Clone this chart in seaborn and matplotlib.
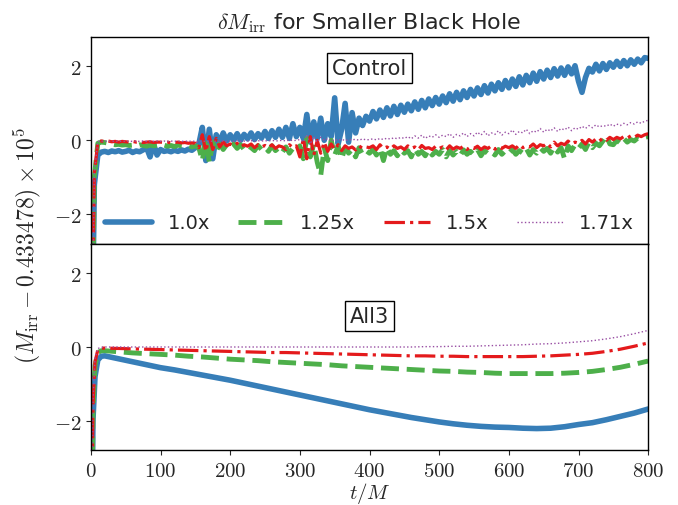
import numpy as np
import pandas as pd
import matplotlib
matplotlib.use('Agg')
import matplotlib.pyplot as plt
from matplotlib.ticker import FuncFormatter
import seaborn as sns

# time grids
t_control = np.arange(0, 805, 5)
t_all3 = [0, 3, 6, 10, 15] + list(range(20, 801, 20))

labels = ['1.0x', '1.25x', '1.5x', '1.71x']
colors = ['#377eb8', '#4daf4a', '#e41a1c', '#984ea3']

# Control run (values read every 5 M)
control_10 = [
    -8.0, -1.2, -0.40, -0.32, -0.30, -0.33, -0.29, -0.31, -0.28, -0.32,
    -0.30, -0.27, -0.33, -0.29, -0.31, -0.26, -0.20, -0.45, -0.10, -0.40,
    -0.25, -0.30, -0.28, -0.31, -0.27, -0.30, -0.26, -0.29, -0.24, -0.27,
    -0.20, -0.10, 0.35, -0.55, 0.30, -0.50, 0.15, -0.05, 0.20, -0.02,
    0.15, 0.00, 0.18, 0.00, 0.16, 0.04, 0.20, 0.02, 0.18, 0.06,
    0.24, 0.05, 0.26, 0.08, 0.30, 0.08, 0.35, 0.05, 0.45, 0.10,
    0.35, 0.05, 0.70, -0.05, 0.50, 0.05, 0.60, 0.00, 0.45, 0.10,
    1.15, -0.10, 0.30, 1.00, -0.05, 0.75, 0.20, 0.60, 0.40, 0.65,
    0.52, 0.78, 0.58, 0.82, 0.62, 0.88, 0.66, 0.92, 0.70, 0.95,
    0.76, 0.98, 0.80, 1.04, 0.84, 1.08, 0.88, 1.12, 0.94, 1.16,
    0.98, 1.20, 1.02, 1.26, 1.06, 1.30, 1.10, 1.34, 1.16, 1.38,
    1.20, 1.42, 1.24, 1.48, 1.28, 1.52, 1.34, 1.56, 1.38, 1.62,
    1.42, 1.66, 1.46, 1.72, 1.50, 1.76, 1.56, 1.82, 1.60, 1.86,
    1.66, 1.90, 1.70, 1.94, 1.74, 1.96, 1.76, 1.99, 1.80, 2.02,
    1.60, 1.30, 1.70, 1.95, 1.85, 2.06, 1.88, 2.08, 1.92, 2.10,
    1.98, 2.14, 2.00, 2.16, 2.02, 2.18, 2.06, 2.20, 2.10, 2.24,
    2.22]
control_125 = [
    -8.0, -1.0, -0.08, -0.05, -0.06, -0.08, -0.10, -0.12, -0.11, -0.13,
    -0.12, -0.14, -0.13, -0.15, -0.12, -0.14, -0.16, -0.13, -0.15, -0.14,
    -0.15, -0.13, -0.16, -0.14, -0.17, -0.13, -0.15, -0.16, -0.14, -0.18,
    -0.15, -0.20, -0.55, 0.05, -0.60, -0.05, -0.30, -0.10, -0.25, -0.12,
    -0.20, -0.10, -0.22, -0.12, -0.25, -0.15, -0.20, -0.28, -0.14, -0.25,
    -0.18, -0.30, -0.15, -0.28, -0.20, -0.32, -0.18, -0.35, -0.22, -0.30,
    -0.15, -0.50, 0.05, -0.45, -0.10, -0.60, -0.95, -0.20, -0.55, 0.00,
    -0.40, -0.15, -0.50, -0.20, -0.35, -0.25, -0.45, -0.20, -0.38, -0.28,
    -0.35, -0.25, -0.40, -0.22, -0.55, -0.20, -0.38, -0.28, -0.42, -0.25,
    -0.35, -0.28, -0.45, -0.22, -0.38, -0.30, -0.42, -0.25, -0.40, -0.30,
    -0.38, -0.25, -0.45, -0.28, -0.40, -0.30, -0.42, -0.26, -0.38, -0.30,
    -0.40, -0.25, -0.42, -0.28, -0.36, -0.30, -0.40, -0.25, -0.38, -0.28,
    -0.35, -0.25, -0.38, -0.28, -0.35, -0.22, -0.40, -0.25, -0.35, -0.20,
    -0.30, -0.22, -0.35, -0.18, -0.32, -0.20, -0.50, -0.15, -0.28, -0.12,
    -0.22, -0.10, -0.25, -0.05, -0.20, -0.08, -0.15, -0.02, 0.12, -0.10,
    -0.12, 0.00, -0.08, 0.05, -0.05, 0.02, -0.02, 0.06, 0.03, 0.08,
    0.10]
control_15 = [
    -8.0, -0.9, -0.04, -0.02, -0.03, -0.02, -0.04, -0.03, -0.05, -0.03,
    -0.04, -0.05, -0.03, -0.05, -0.04, -0.06, -0.05, -0.04, -0.06, -0.05,
    -0.05, -0.06, -0.05, -0.07, -0.06, -0.05, -0.07, -0.06, -0.08, -0.07,
    -0.08, -0.20, 0.15, -0.30, 0.10, -0.25, 0.05, -0.18, -0.05, -0.15,
    -0.10, -0.15, -0.08, -0.18, -0.12, -0.16, -0.10, -0.20, -0.12, -0.18,
    -0.14, -0.20, -0.12, -0.22, -0.15, -0.18, -0.25, -0.12, -0.20, -0.15,
    -0.45, 0.05, -0.50, 0.10, -0.40, 0.00, -0.35, -0.05, -0.30, -0.10,
    -0.25, -0.12, -0.28, -0.15, -0.22, -0.18, -0.26, -0.15, -0.22, -0.18,
    -0.20, -0.15, -0.25, -0.12, -0.22, -0.18, -0.24, -0.15, -0.22, -0.18,
    -0.25, -0.15, -0.22, -0.18, -0.26, -0.14, -0.22, -0.20, -0.25, -0.16,
    -0.22, -0.18, -0.26, -0.15, -0.24, -0.18, -0.22, -0.16, -0.25, -0.18,
    -0.22, -0.16, -0.25, -0.18, -0.22, -0.15, -0.24, -0.17, -0.22, -0.16,
    -0.20, -0.15, -0.22, -0.12, -0.20, -0.15, -0.18, -0.10, -0.20, -0.12,
    -0.15, -0.08, -0.18, -0.05, -0.15, -0.08, -0.12, -0.02, -0.10, -0.05,
    -0.08, 0.00, -0.10, 0.02, -0.05, 0.04, -0.02, 0.06, 0.00, 0.08,
    0.02, 0.08, 0.04, 0.10, 0.06, 0.12, 0.08, 0.14, 0.10, 0.15,
    0.18]
control_171 = [
    -8.0, -0.9, -0.03, -0.02, -0.03, -0.02, -0.03, -0.02, -0.03, -0.02,
    -0.03, -0.02, -0.03, -0.02, -0.03, -0.02, -0.03, -0.02, -0.03, -0.02,
    -0.03, -0.02, -0.03, -0.02, -0.03, -0.02, -0.03, -0.02, -0.03, -0.02,
    -0.03, -0.05, -0.01, -0.04, -0.02, -0.03, -0.02, -0.03, -0.02, -0.03,
    -0.02, -0.03, -0.01, -0.03, -0.02, -0.02, -0.01, -0.03, -0.01, -0.02,
    -0.01, -0.02, 0.00, -0.02, -0.01, 0.00, -0.02, 0.01, -0.01, 0.00,
    0.02, -0.05, 0.15, -0.10, 0.10, -0.05, 0.08, 0.00, 0.05, -0.02,
    0.02, 0.00, 0.03, -0.01, 0.02, 0.01, 0.03, 0.00, 0.04, 0.01,
    0.02, 0.04, 0.01, 0.05, 0.02, 0.06, 0.03, 0.07, 0.04, 0.08,
    0.05, 0.10, 0.04, 0.12, 0.06, 0.14, 0.05, 0.12, 0.08, 0.15,
    0.08, 0.14, 0.10, 0.18, 0.08, 0.16, 0.12, 0.20, 0.10, 0.18,
    0.12, 0.22, 0.14, 0.24, 0.12, 0.20, 0.16, 0.26, 0.14, 0.22,
    0.18, 0.28, 0.16, 0.24, 0.20, 0.30, 0.18, 0.26, 0.22, 0.32,
    0.22, 0.30, 0.25, 0.34, 0.24, 0.32, 0.28, 0.36, 0.26, 0.34,
    0.30, 0.38, 0.32, 0.40, 0.34, 0.42, 0.36, 0.40, 0.38, 0.44,
    0.38, 0.44, 0.40, 0.46, 0.42, 0.48, 0.44, 0.50, 0.46, 0.52,
    0.54]

# All3 run
all3_10 = [-8.0, -2.0, -0.8, -0.35, -0.25,
           -0.24, -0.32, -0.40, -0.48, -0.56, -0.62, -0.69, -0.76, -0.83, -0.90,
           -0.98, -1.06, -1.14, -1.22, -1.30, -1.38, -1.46, -1.54, -1.62, -1.70,
           -1.77, -1.84, -1.91, -1.97, -2.03, -2.08, -2.12, -2.15, -2.17, -2.18,
           -2.20, -2.21, -2.20, -2.16, -2.10, -2.05, -1.97, -1.88, -1.79, -1.68]
all3_125 = [-8.0, -1.8, -0.5, -0.15, -0.10,
            -0.10, -0.13, -0.16, -0.18, -0.20, -0.22, -0.25, -0.27, -0.30, -0.33,
            -0.35, -0.37, -0.40, -0.42, -0.44, -0.46, -0.48, -0.51, -0.53, -0.55,
            -0.57, -0.59, -0.61, -0.63, -0.65, -0.66, -0.68, -0.69, -0.71, -0.72,
            -0.72, -0.72, -0.72, -0.71, -0.69, -0.66, -0.61, -0.55, -0.47, -0.38]
all3_15 = [-8.0, -1.6, -0.4, -0.08, -0.03,
           -0.03, -0.04, -0.05, -0.06, -0.07, -0.08, -0.09, -0.10, -0.11, -0.12,
           -0.13, -0.14, -0.15, -0.15, -0.16, -0.17, -0.18, -0.19, -0.20, -0.21,
           -0.22, -0.23, -0.24, -0.24, -0.25, -0.25, -0.26, -0.26, -0.26, -0.26,
           -0.26, -0.25, -0.24, -0.22, -0.20, -0.17, -0.12, -0.06, 0.02, 0.11]
all3_171 = [-8.0, -1.5, -0.3, -0.04, -0.01,
            0.00, 0.00, 0.00, 0.00, 0.00, 0.00, 0.00, 0.00, 0.00, 0.00,
            0.00, 0.00, 0.00, 0.00, 0.00, 0.00, 0.00, 0.00, 0.00, 0.00,
            0.00, 0.00, 0.00, 0.01, 0.01, 0.02, 0.02, 0.03, 0.04, 0.05,
            0.06, 0.08, 0.09, 0.11, 0.14, 0.17, 0.22, 0.28, 0.36, 0.45]

styles = [dict(lw=4.0, linestyle='-'),
          dict(lw=3.5, linestyle='--'),
          dict(lw=2.3, linestyle='-.'),
          dict(lw=1.0, linestyle=':')]

sns.set_style('ticks')
plt.rcParams['font.family'] = ['DejaVu Sans']
plt.rcParams['mathtext.fontset'] = 'cm'
plt.rcParams['axes.linewidth'] = 1.0

fig, (ax1, ax2) = plt.subplots(2, 1, sharex=True, figsize=(6.78, 5.06), dpi=100)
fig.subplots_adjust(left=0.134, right=0.956, top=0.925, bottom=0.108, hspace=0)

for ys, lab, c, st in zip([control_10, control_125, control_15, control_171], labels, colors, styles):
    sns.lineplot(x=t_control, y=ys, color=c, label=lab, legend=False, ax=ax1, **st)
for ys, lab, c, st in zip([all3_10, all3_125, all3_15, all3_171], labels, colors, styles):
    sns.lineplot(x=t_all3, y=ys, color=c, legend=False, ax=ax2, **st)

mfmt = FuncFormatter(lambda v, p: f'${v:g}$')
for ax in (ax1, ax2):
    ax.set_xlim(0, 800)
    ax.set_ylim(-2.8, 2.8)
    ax.set_yticks([-2, 0, 2])
    ax.yaxis.set_major_formatter(mfmt)
    ax.tick_params(labelsize=15)
    for s in ax.spines.values():
        s.set_color('black')
ax2.set_xticks(range(0, 801, 100))
ax2.xaxis.set_major_formatter(mfmt)

ax1.text(0.5, 0.85, 'Control', transform=ax1.transAxes, ha='center', va='center', fontsize=15,
         bbox=dict(boxstyle='square,pad=0.25', fc='white', ec='black'))
ax2.text(0.5, 0.65, 'All3', transform=ax2.transAxes, ha='center', va='center', fontsize=15,
         bbox=dict(boxstyle='square,pad=0.25', fc='white', ec='black'))

ax1.legend(loc='lower center', bbox_to_anchor=(0.5, -0.03), ncol=4, frameon=False, fontsize=14,
           handlelength=2.4, handletextpad=0.8, columnspacing=1.45)

ax1.set_title(r'$\delta M_{\rm irr}$ for Smaller Black Hole', fontsize=16)
ax2.set_xlabel(r'$t/M$', fontsize=15, labelpad=0)
fig.text(0.04, 0.515, r'$(M_{\rm irr} - 0.433478)\times10^5$', rotation=90, ha='center', va='center', fontsize=17)

plt.savefig('out.png', dpi=100)
plt.close()
